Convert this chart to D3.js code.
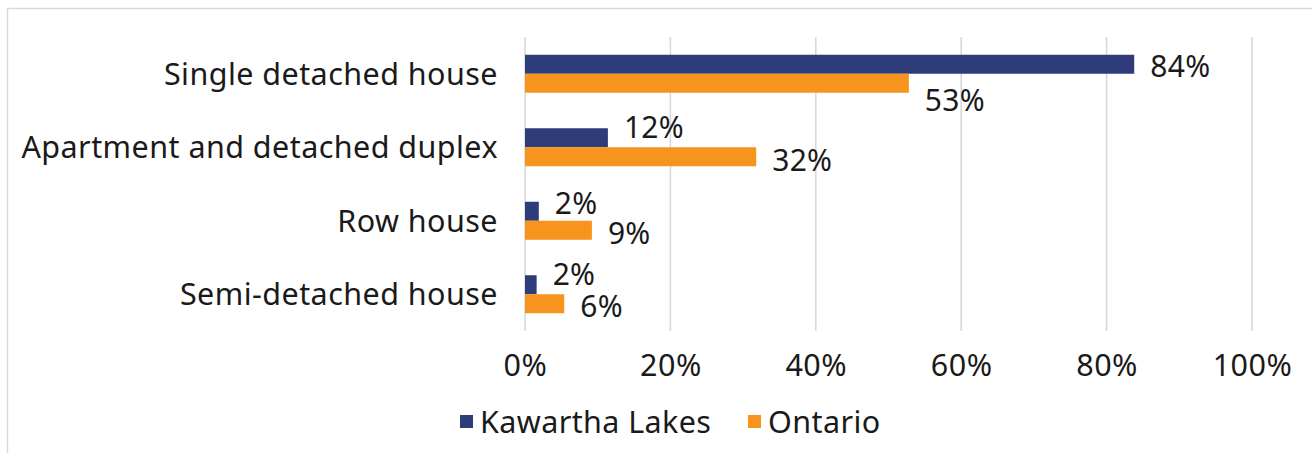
<!DOCTYPE html>
<html><head><meta charset="utf-8">
<script src="https://cdn.jsdelivr.net/npm/d3@7"></script>
<style>html,body{margin:0;padding:0;background:#fff;}svg{display:block;}</style>
</head><body>
<svg id="chart" width="1312" height="453"></svg>
<script>
const categories = ["Single detached house", "Apartment and detached duplex", "Row house", "Semi-detached house"];
const seriesNames = ["Kawartha Lakes", "Ontario"];
const kawarthaLakes = [0.838, 0.114, 0.019, 0.016];
const ontario = [0.528, 0.318, 0.092, 0.054];
const kawarthaLabels = ["84%", "12%", "2%", "2%"];
const ontarioLabels = ["53%", "32%", "9%", "6%"];
const tickValues = [0, 0.2, 0.4, 0.6, 0.8, 1.0];
const tickLabels = ["0%", "20%", "40%", "60%", "80%", "100%"];

const colors = {"Kawartha Lakes": "#2E3D79", "Ontario": "#F7941E"};
const FONT = "'Noto Sans', sans-serif";
const FS = 30;
const TEXT = "#1a1a1a";
const GRID = "#d9d9d9";

const svg = d3.select("#chart");
svg.append("rect").attr("x", 7.5).attr("y", 8.5).attr("width", 1400).attr("height", 500)
  .attr("fill", "#fff").attr("stroke", GRID).attr("stroke-width", 1.5);

const x = d3.scaleLinear().domain([0, 1]).range([525, 1252]);
const y = d3.scaleBand().domain(categories).range([37, 331]).paddingInner(0.483).paddingOuter(0.2415);
const ys = d3.scaleBand().domain(seriesNames).range([0, y.bandwidth()]);

// gridlines
svg.append("g").selectAll("line").data(tickValues).join("line")
  .attr("x1", d => x(d)).attr("x2", d => x(d))
  .attr("y1", 37).attr("y2", 331)
  .attr("stroke", GRID).attr("stroke-width", 1.6);

// x axis tick labels
const xAxis = d3.axisBottom(x).tickValues(tickValues).tickFormat((d, i) => tickLabels[i]).tickSize(0).tickPadding(0);
const gx = svg.append("g").attr("transform", "translate(0,376)").call(xAxis);
gx.select(".domain").remove();
gx.selectAll("text").attr("dy", 0).attr("font-family", FONT).attr("font-size", 30.5)
  .attr("letter-spacing", 0.5).attr("fill", TEXT);

// category labels
const yAxis = d3.axisLeft(y).tickSize(0).tickPadding(0);
const gy = svg.append("g").attr("transform", "translate(498,0)").call(yAxis);
gy.select(".domain").remove();
gy.selectAll("text").attr("dy", "0.36em").attr("font-family", FONT).attr("font-size", 30.5)
  .attr("letter-spacing", 0.45).attr("fill", TEXT);

const rows = categories.map((c, i) => ({
  cat: c,
  vals: [
    {s: "Kawartha Lakes", v: kawarthaLakes[i], label: kawarthaLabels[i]},
    {s: "Ontario", v: ontario[i], label: ontarioLabels[i]}
  ]
}));

// label vertical nudges (layout, as in the reference)
const labelDy = {"Kawartha Lakes": [2, -11, -8.5, -11], "Ontario": [16.5, 3, 2.5, 2.5]};

const groups = svg.append("g").selectAll("g").data(rows).join("g")
  .attr("transform", d => `translate(0,${y(d.cat)})`);

groups.selectAll("rect").data(d => d.vals).join("rect")
  .attr("x", x(0)).attr("y", d => ys(d.s))
  .attr("width", d => x(d.v) - x(0)).attr("height", ys.bandwidth())
  .attr("fill", d => colors[d.s]);

groups.each(function(d, i) {
  d3.select(this).selectAll("text.lbl").data(d.vals).join("text").attr("class", "lbl")
    .attr("x", v => x(v.v) + 16)
    .attr("y", v => ys(v.s) + ys.bandwidth() / 2 + labelDy[v.s][i])
    .attr("dy", "0.36em")
    .attr("font-family", FONT).attr("font-size", FS).attr("letter-spacing", 0.3).attr("fill", TEXT)
    .text(v => v.label);
});

// legend
const legendX = [460, 748];
const lg = svg.append("g").selectAll("g").data(seriesNames).join("g")
  .attr("transform", (d, i) => `translate(${legendX[i]},0)`);
lg.append("rect").attr("x", 0).attr("y", 415).attr("width", 13).attr("height", 13).attr("fill", d => colors[d]);
lg.append("text").attr("x", 20).attr("y", 422).attr("dy", "0.36em")
  .attr("font-family", FONT).attr("font-size", 30.5).attr("letter-spacing", 0.4).attr("fill", TEXT).text(d => d);
</script>
</body></html>
